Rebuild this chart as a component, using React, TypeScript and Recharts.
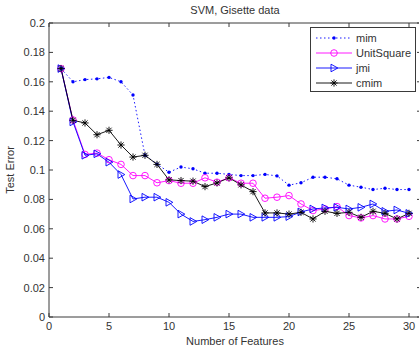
import { LineChart, Line, XAxis, YAxis, Legend } from 'recharts';

const features = [1, 2, 3, 4, 5, 6, 7, 8, 9, 10, 11, 12, 13, 14, 15, 16, 17, 18, 19, 20, 21, 22, 23, 24, 25, 26, 27, 28, 29, 30];

const mim = [0.169, 0.160, 0.1615, 0.162, 0.163, 0.160, 0.151, 0.110, 0.104, 0.0985, 0.102, 0.1008, 0.0978, 0.0978, 0.097, 0.0962, 0.0962, 0.097, 0.096, 0.0897, 0.0913, 0.0951, 0.0951, 0.094, 0.0897, 0.0883, 0.0867, 0.0876, 0.0867, 0.0867];
const unitSquare = [0.169, 0.134, 0.1106, 0.1115, 0.107, 0.1038, 0.0962, 0.0962, 0.0913, 0.0928, 0.091, 0.091, 0.0947, 0.0917, 0.0947, 0.091, 0.091, 0.0808, 0.0815, 0.0826, 0.0769, 0.0724, 0.0735, 0.0751, 0.069, 0.0674, 0.069, 0.0667, 0.0667, 0.0685];
const jmi = [0.169, 0.1327, 0.110, 0.111, 0.1053, 0.0969, 0.0803, 0.0815, 0.0815, 0.078, 0.070, 0.065, 0.0662, 0.0678, 0.070, 0.070, 0.0678, 0.0678, 0.0678, 0.0683, 0.0715, 0.0735, 0.0742, 0.0746, 0.0735, 0.0746, 0.0769, 0.0719, 0.0728, 0.0705];
const cmim = [0.169, 0.1338, 0.132, 0.124, 0.127, 0.117, 0.1088, 0.110, 0.1038, 0.0933, 0.0928, 0.0924, 0.0887, 0.0912, 0.0947, 0.0899, 0.0853, 0.0708, 0.0708, 0.070, 0.0712, 0.0667, 0.0719, 0.0705, 0.0712, 0.0678, 0.0719, 0.0705, 0.0667, 0.0705];

const xTicks = [0, 5, 10, 15, 20, 25, 30];
const yTicks = [0, 0.02, 0.04, 0.06, 0.08, 0.1, 0.12, 0.14, 0.16, 0.18, 0.2];

const data = features.map((f, i) => ({
  f,
  mim: mim[i],
  unitSquare: unitSquare[i],
  jmi: jmi[i],
  cmim: cmim[i],
}));

const FONT = '"Liberation Sans", Arial, sans-serif';
const AXIS = '#3a3a3a';
const TEXT = '#333';

const BottomTick = ({ x, y, payload }: any) => (
  <g>
    <line x1={x} y1={y} x2={x} y2={y - 4} stroke={AXIS} />
    <text x={x} y={y + 13} textAnchor="middle" fontSize={11} fill={TEXT} fontFamily={FONT}>
      {payload.value}
    </text>
  </g>
);

const TopTick = ({ x, y }: any) => <line x1={x} y1={y} x2={x} y2={y + 4} stroke={AXIS} />;

const LeftTick = ({ x, y, payload }: any) => (
  <g>
    <line x1={x} y1={y} x2={x + 4} y2={y} stroke={AXIS} />
    <text x={x - 4} y={y + 4} textAnchor="end" fontSize={11} fill={TEXT} fontFamily={FONT}>
      {payload.value}
    </text>
  </g>
);

const RightTick = ({ x, y }: any) => <line x1={x} y1={y} x2={x - 4} y2={y} stroke={AXIS} />;

const DotMarker = ({ cx, cy }: any) => <circle cx={cx} cy={cy} r={1.7} fill="#0000ff" stroke="none" />;

const CircleMarker = ({ cx, cy }: any) => (
  <circle cx={cx} cy={cy} r={3.3} fill="none" stroke="#ff00ff" strokeWidth={0.9} />
);

const TriMarker = ({ cx, cy }: any) => (
  <polygon
    points={`${cx - 3},${cy - 3.8} ${cx - 3},${cy + 3.8} ${cx + 3.8},${cy}`}
    fill="none"
    stroke="#0000ff"
    strokeWidth={0.9}
  />
);

const StarMarker = ({ cx, cy }: any) => (
  <g stroke="#000" strokeWidth={0.9}>
    <line x1={cx - 3.6} y1={cy} x2={cx + 3.6} y2={cy} />
    <line x1={cx} y1={cy - 3.6} x2={cx} y2={cy + 3.6} />
    <line x1={cx - 2.6} y1={cy - 2.6} x2={cx + 2.6} y2={cy + 2.6} />
    <line x1={cx - 2.6} y1={cy + 2.6} x2={cx + 2.6} y2={cy - 2.6} />
  </g>
);

const legendItems = [
  { name: 'mim', color: '#0000ff', dash: '1.5 2.5', marker: DotMarker },
  { name: 'UnitSquare', color: '#ff00ff', dash: undefined, marker: CircleMarker },
  { name: 'jmi', color: '#0000ff', dash: undefined, marker: TriMarker },
  { name: 'cmim', color: '#000', dash: undefined, marker: StarMarker },
];

const renderLegend = () => (
  <svg width={107} height={66} style={{ display: 'block' }}>
    <rect x={0.5} y={0.5} width={105} height={64} fill="#fff" stroke={AXIS} />
    {legendItems.map((it, i) => {
      const y = 11 + i * 15;
      const M = it.marker;
      return (
        <g key={it.name}>
          <line x1={6} y1={y} x2={42} y2={y} stroke={it.color} strokeWidth={0.9} strokeDasharray={it.dash} />
          <M cx={24} cy={y} />
          <text x={46} y={y + 4} fontSize={11} fill={TEXT} fontFamily={FONT}>
            {it.name}
          </text>
        </g>
      );
    })}
  </svg>
);

export default function App() {
  return (
    <div style={{ position: 'absolute', left: 0, top: 0, width: 419, height: 347, overflow: 'hidden', background: '#fff' }}>
      <LineChart width={440} height={347} data={data} margin={{ top: 22, right: 18, bottom: 29, left: 48 }}>
        <XAxis
          dataKey="f"
          type="number"
          domain={[0, 31]}
          ticks={xTicks}
          tickSize={0}
          tickMargin={0}
          height={1}
          stroke={AXIS}
          tick={<BottomTick />}
          allowDataOverflow
        />
        <XAxis
          xAxisId="top"
          dataKey="f"
          type="number"
          orientation="top"
          domain={[0, 31]}
          ticks={xTicks}
          tickSize={0}
          tickMargin={0}
          height={1}
          stroke={AXIS}
          tick={<TopTick />}
          allowDataOverflow
        />
        <YAxis
          type="number"
          domain={[0, 0.2]}
          ticks={yTicks}
          tickSize={0}
          tickMargin={0}
          width={1}
          stroke={AXIS}
          tick={<LeftTick />}
          allowDataOverflow
        />
        <YAxis
          yAxisId="right"
          orientation="right"
          type="number"
          domain={[0, 0.2]}
          ticks={yTicks}
          tickSize={0}
          tickMargin={0}
          width={1}
          stroke={AXIS}
          tick={<RightTick />}
          allowDataOverflow
        />
        <Line
          dataKey="mim"
          stroke="#0000ff"
          strokeWidth={0.9}
          strokeDasharray="1.5 2.5"
          dot={<DotMarker />}
          isAnimationActive={false}
        />
        <Line dataKey="unitSquare" stroke="#ff00ff" strokeWidth={0.9} dot={<CircleMarker />} isAnimationActive={false} />
        <Line dataKey="jmi" stroke="#0000ff" strokeWidth={0.9} dot={<TriMarker />} isAnimationActive={false} />
        <Line dataKey="cmim" stroke="#000" strokeWidth={0.9} dot={<StarMarker />} isAnimationActive={false} />
        <Legend
          layout="vertical"
          align="center"
          verticalAlign="middle"
          content={renderLegend}
          wrapperStyle={{ position: 'absolute', left: 310, top: 27, width: 107, height: 66 }}
        />
      </LineChart>
      <div
        style={{
          position: 'absolute',
          left: 49,
          width: 372,
          top: 4,
          textAlign: 'center',
          fontFamily: FONT,
          fontSize: 11,
          color: TEXT,
        }}
      >
        SVM, Gisette data
      </div>
      <div
        style={{
          position: 'absolute',
          left: 49,
          width: 372,
          top: 335,
          textAlign: 'center',
          fontFamily: FONT,
          fontSize: 11,
          color: TEXT,
        }}
      >
        Number of Features
      </div>
      <div
        style={{
          position: 'absolute',
          left: 10,
          top: 170,
          transform: 'translate(-50%, -50%) rotate(-90deg)',
          whiteSpace: 'nowrap',
          fontFamily: FONT,
          fontSize: 11,
          color: TEXT,
        }}
      >
        Test Error
      </div>
    </div>
  );
}
